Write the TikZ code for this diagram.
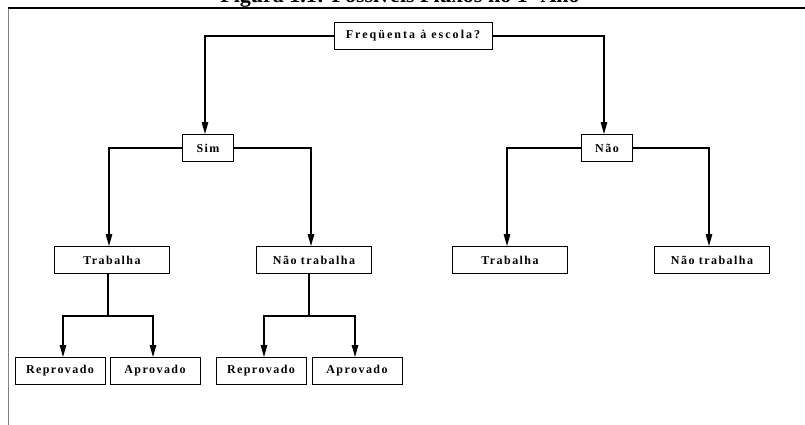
\documentclass[tikz,border=0pt]{standalone}
\usepackage{fontspec}
\setmainfont{Liberation Serif}
\newfontfamily\boxfont[LetterSpace=12]{Liberation Serif}
\newfontfamily\rootfont[LetterSpace=17]{Liberation Serif}
\usepackage{tikz}
\usetikzlibrary{arrows.meta}
\usetikzlibrary{positioning}
\usetikzlibrary{calc}

\begin{document}
\begin{tikzpicture}[x = 1pt, y = 1pt, node distance = 112pt, on grid,
	box/.style = {draw, line width = 0.9pt, minimum height = 27pt, inner sep = 0pt, font = \boxfont\bfseries\fontsize{12}{14}\selectfont},
	link/.style = {line width = 1.3pt, -{Triangle[width = 6.5pt, length = 12pt]}},
	stem/.style = {line width = 1.3pt}]
	\useasboundingbox (0,0) rectangle (805,-425);
	\node (title) at (400,-3) [anchor = base, inner sep = 0pt, font = \bfseries\fontsize{22}{24}\selectfont] {Figura 1.1: Possíveis Fluxos no 1º Ano};
	\draw[gray, line width = 1pt] (8,-8) -- (8,-425);
	\draw[line width = 1.3pt] (8,-8) -- (805,-8);
	\node[box, minimum width = 158pt, font = \rootfont\bfseries\fontsize{12}{14}\selectfont] (root) at (413,-36) {Freqüenta à escola?};
	\node[box, minimum width = 51pt] (sim) [below left = 112pt and 205pt of root] {Sim};
	\node[box, minimum width = 51pt] (nao) [below right = 112pt and 194pt of root] {Não};
	\node[box, minimum width = 115pt] (trab1) [below left = 112pt and 96pt of sim] {Trabalha};
	\node[box, minimum width = 115pt] (ntrab1) [below right = 112pt and 106pt of sim] {Não trabalha};
	\node[box, minimum width = 115pt] (trab2) [below left = 112pt and 97pt of nao] {Trabalha};
	\node[box, minimum width = 115pt] (ntrab2) [below right = 112pt and 105pt of nao] {Não trabalha};
	\node[box, minimum width = 90pt] (rep1) [below left = 111pt and 52pt of trab1] {Reprovado};
	\node[box, minimum width = 90pt] (apr1) [below right = 111pt and 43pt of trab1] {Aprovado};
	\node[box, minimum width = 90pt] (rep2) [below left = 111pt and 53pt of ntrab1] {Reprovado};
	\node[box, minimum width = 90pt] (apr2) [below right = 111pt and 43pt of ntrab1] {Aprovado};
	\coordinate (j1) at ($(trab1.south) + (-4,-42)$);
	\coordinate (j2) at ($(ntrab1.south) + (-5,-42)$);
	\draw[link] (root.west) -| ($(sim.north) + (-3,0)$);
	\draw[link] (root.east) -| ($(nao.north) + (-3,0)$);
	\draw[link] (sim.west) -| ($(trab1.north) + (-3,0)$);
	\draw[link] (sim.east) -| ($(ntrab1.north) + (-3,0)$);
	\draw[link] (nao.west) -| ($(trab2.north) + (-3,0)$);
	\draw[link] (nao.east) -| ($(ntrab2.north) + (-3,0)$);
	\draw[stem] (trab1.south -| j1) -- (j1);
	\draw[link] (j1) -| ($(rep1.north) + (3,0)$);
	\draw[link] (j1) -| ($(apr1.north) + (-2,0)$);
	\draw[stem] (ntrab1.south -| j2) -- (j2);
	\draw[link] (j2) -| ($(rep2.north) + (3,0)$);
	\draw[link] (j2) -| ($(apr2.north) + (-2,0)$);
\end{tikzpicture}
\end{document}
